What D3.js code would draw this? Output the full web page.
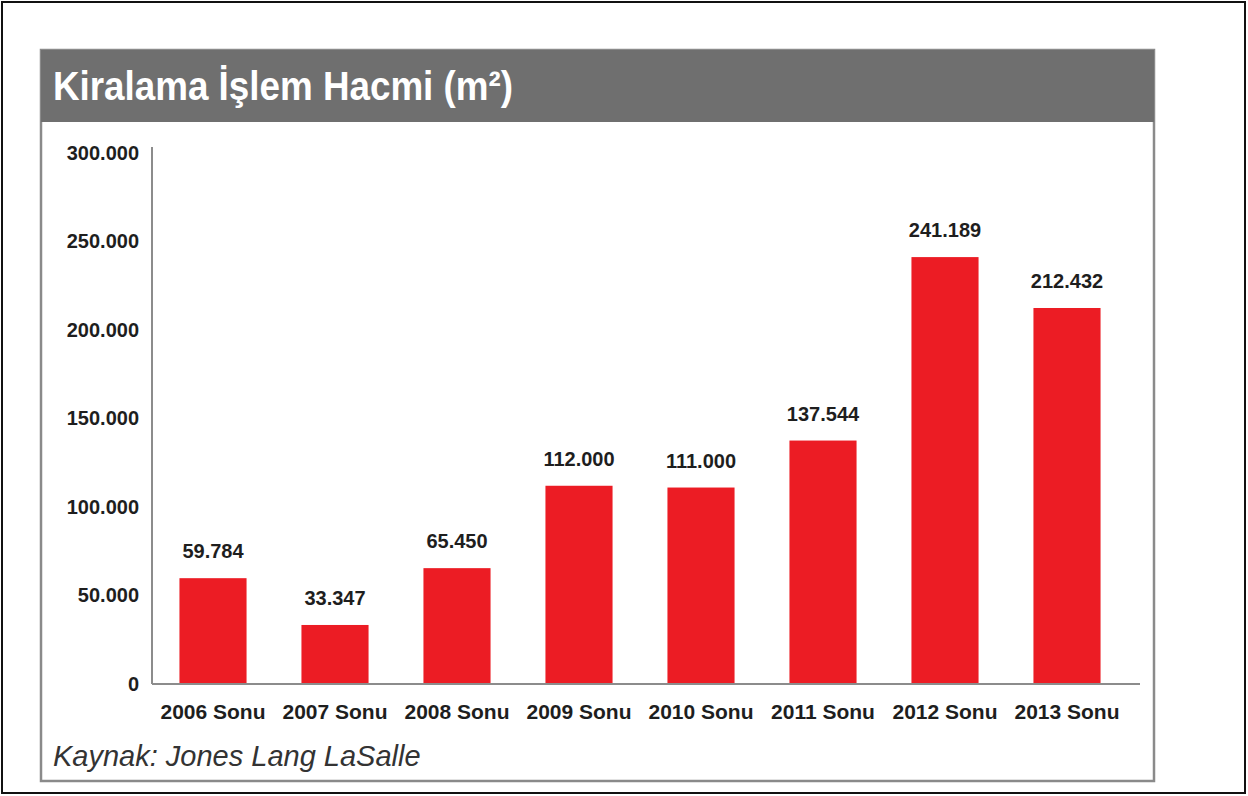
<!DOCTYPE html>
<html>
<head>
<meta charset="utf-8">
<script src="https://cdn.jsdelivr.net/npm/d3@7"></script>
<style>
  body { margin: 0; background: #fff; }
  svg { display: block; }
</style>
</head>
<body>
<div id="chart"></div>
<script>
// data
const categories = ["2006 Sonu", "2007 Sonu", "2008 Sonu", "2009 Sonu", "2010 Sonu", "2011 Sonu", "2012 Sonu", "2013 Sonu"];
const values = [59784, 33347, 65450, 112000, 111000, 137544, 241189, 212432];
const yTicks = [0, 50000, 100000, 150000, 200000, 250000, 300000];
const title = "Kiralama İşlem Hacmi (m²)";
const source = "Kaynak: Jones Lang LaSalle";

function init() {
    const W = 1248, H = 796;
    const trFormat = d3.formatLocale({ decimal: ",", thousands: ".", grouping: [3], currency: ["", " TL"] }).format(",");

    const svg = d3.select("#chart")
        .append("svg")
        .attr("width", W)
        .attr("height", H);

    // outer black frame
    svg.append("rect")
        .attr("x", 2).attr("y", 2)
        .attr("width", 1243).attr("height", 791)
        .attr("fill", "#fff")
        .attr("stroke", "#111")
        .attr("stroke-width", 2);

    // inner grey panel
    svg.append("rect")
        .attr("x", 41).attr("y", 50)
        .attr("width", 1113).attr("height", 731)
        .attr("fill", "#fff")
        .attr("stroke", "#8a8a8a")
        .attr("stroke-width", 2.5);

    // title bar
    svg.append("rect")
        .attr("x", 41).attr("y", 50)
        .attr("width", 1113).attr("height", 72)
        .attr("fill", "#6f6f6f");

    svg.append("text")
        .attr("x", 53).attr("y", 100)
        .attr("fill", "#fff")
        .attr("font-family", "Liberation Sans, Arial, sans-serif")
        .attr("font-weight", "bold")
        .attr("font-size", 40)
        .attr("textLength", 460)
        .attr("lengthAdjust", "spacingAndGlyphs")
        .text(title);

    // scales
    const x = d3.scaleBand()
        .domain(categories)
        .range([152, 1128])
        .paddingInner(0.45)
        .paddingOuter(0.225);

    const y = d3.scaleLinear()
        .domain([0, 300000])
        .range([684, 153]);

    // bars
    svg.selectAll(".bar")
        .data(values)
        .enter()
        .append("rect")
        .attr("class", "bar")
        .attr("x", (d, i) => x(categories[i]))
        .attr("y", d => y(d))
        .attr("width", x.bandwidth())
        .attr("height", d => y(0) - y(d))
        .attr("fill", "#ec1c24");

    // value labels
    svg.selectAll(".val")
        .data(values)
        .enter()
        .append("text")
        .attr("class", "val")
        .attr("x", (d, i) => x(categories[i]) + x.bandwidth() / 2)
        .attr("y", d => y(d) - 20)
        .attr("text-anchor", "middle")
        .attr("font-family", "Liberation Sans, Arial, sans-serif")
        .attr("font-weight", "bold")
        .attr("font-size", 20)
        .attr("fill", "#1e1e1e")
        .text(d => trFormat(d));

    // y axis
    const yAxis = svg.append("g")
        .attr("transform", "translate(152,0)")
        .call(d3.axisLeft(y).tickValues(yTicks).tickSize(0).tickPadding(13).tickFormat(d => trFormat(d)));
    yAxis.select(".domain").attr("d", "M0,147V684").attr("stroke", "#8c8c8c").attr("stroke-width", 2);
    yAxis.selectAll("text")
        .attr("font-family", "Liberation Sans, Arial, sans-serif")
        .attr("font-weight", "bold")
        .attr("font-size", 20)
        .attr("fill", "#1e1e1e");

    // x axis
    const xAxis = svg.append("g")
        .attr("transform", "translate(0,684)")
        .call(d3.axisBottom(x).tickSize(0).tickPadding(20));
    xAxis.select(".domain").attr("d", "M152,0H1140").attr("stroke", "#8c8c8c").attr("stroke-width", 2);
    xAxis.selectAll("text")
        .attr("font-family", "Liberation Sans, Arial, sans-serif")
        .attr("font-weight", "bold")
        .attr("font-size", 21)
        .attr("fill", "#1e1e1e");

    // source note
    svg.append("text")
        .attr("x", 53).attr("y", 766)
        .attr("font-family", "Liberation Sans, Arial, sans-serif")
        .attr("font-style", "italic")
        .attr("font-size", 29)
        .attr("fill", "#333")
        .text(source);
}

window.onload = init;
</script>
</body>
</html>
